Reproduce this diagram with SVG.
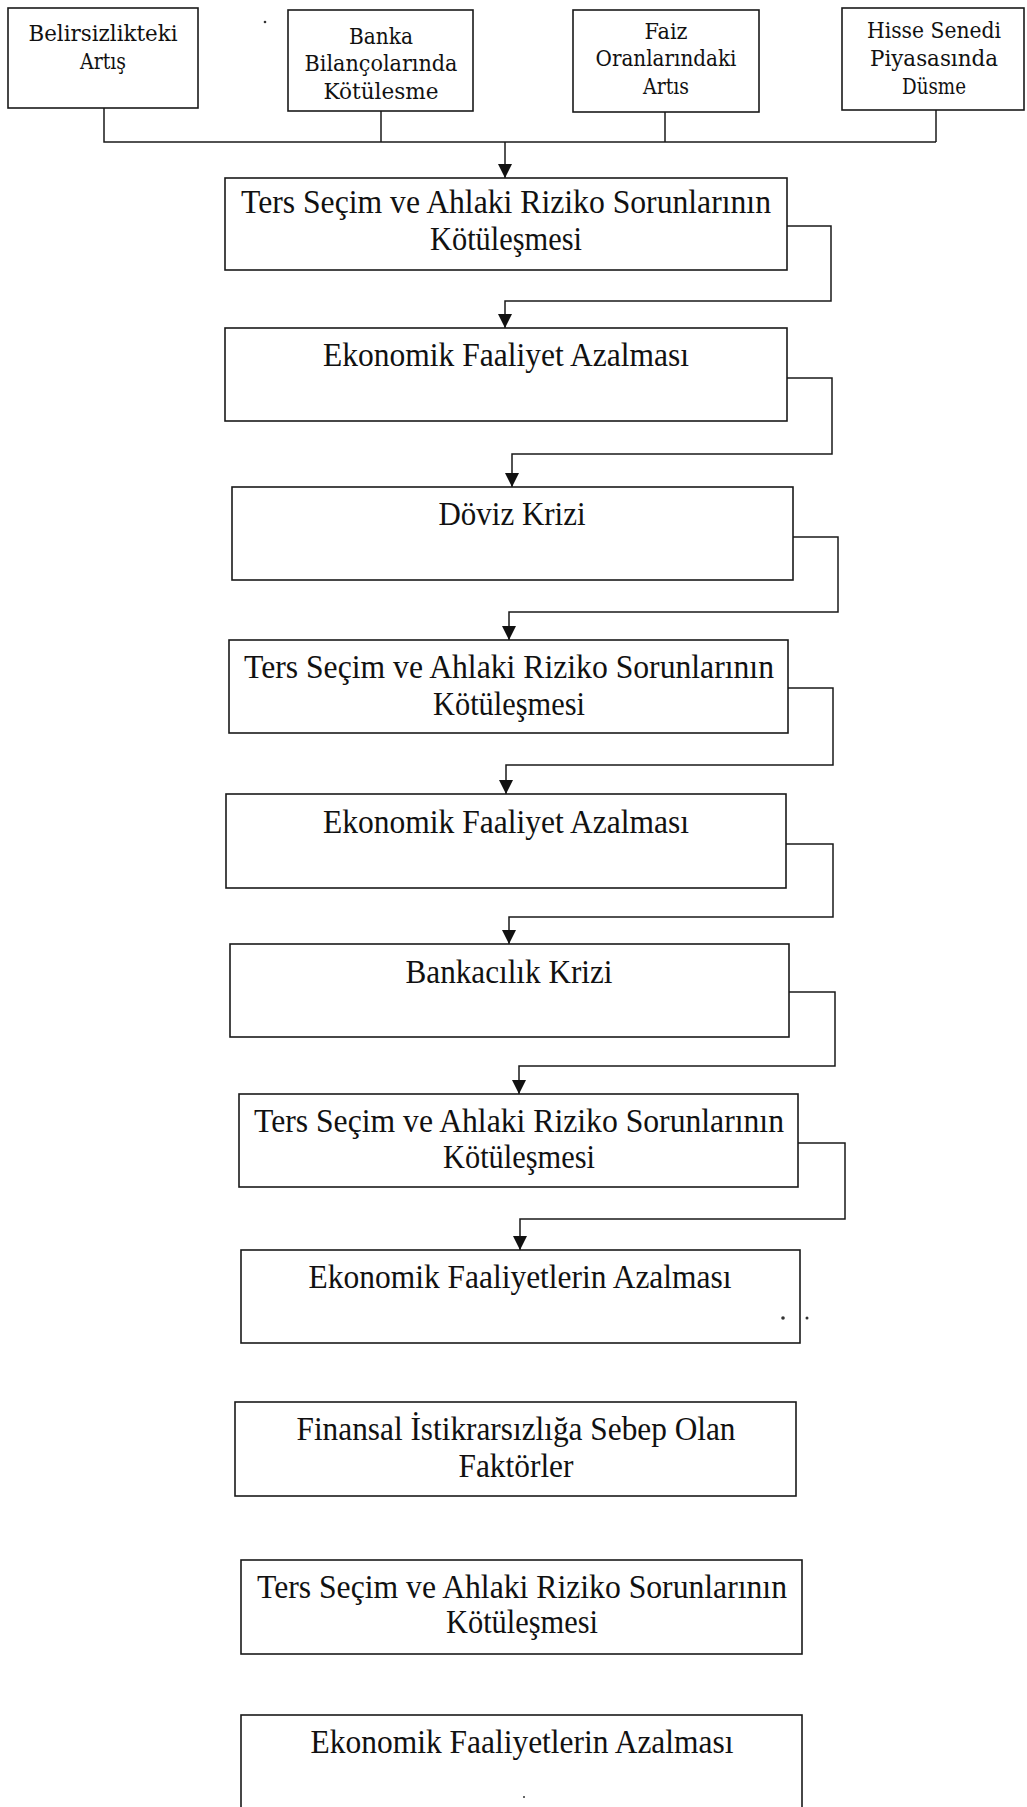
<svg xmlns="http://www.w3.org/2000/svg" width="1027" height="1807" viewBox="0 0 1027 1807">
<style>
.box{fill:#fff;stroke:#1a1a1a;stroke-width:1.6}
.con{fill:none;stroke:#1a1a1a;stroke-width:1.5}
.t{font-family:"Liberation Serif","Times New Roman",serif;font-size:33px;fill:#111;text-anchor:middle}
.s{font-family:"DejaVu Serif","Liberation Serif",serif;font-size:23px;fill:#111;text-anchor:middle}
.dot{fill:#333}
</style>
<defs>
<marker id="arr" markerUnits="userSpaceOnUse" markerWidth="14" markerHeight="14" refX="14" refY="7" orient="auto">
<path d="M0,0 L14,7 L0,14 z" fill="#111"/>
</marker>
</defs>
<rect width="1027" height="1807" fill="#fff"/>

<g id="connectors">
<path class="con" d="M104,108 V142 H936"/>
<path class="con" d="M381,111 V142"/>
<path class="con" d="M665,112 V142"/>
<path class="con" d="M936,110 V142"/>
<path class="con" d="M505,142 V178" marker-end="url(#arr)"/>
<path class="con" d="M787,226 H831 V301 H505 V328" marker-end="url(#arr)"/>
<path class="con" d="M787,378 H832 V454 H512 V487" marker-end="url(#arr)"/>
<path class="con" d="M793,537 H838 V612 H509 V640" marker-end="url(#arr)"/>
<path class="con" d="M788,688 H833 V765 H506 V794" marker-end="url(#arr)"/>
<path class="con" d="M786,844 H833 V917 H509 V944" marker-end="url(#arr)"/>
<path class="con" d="M789,992 H835 V1066 H519 V1094" marker-end="url(#arr)"/>
<path class="con" d="M798,1143 H845 V1219 H520 V1250" marker-end="url(#arr)"/>
</g>

<g id="n-belirsizlik">
<rect class="box" x="8" y="8" width="190" height="100"/>
<text class="s" x="103" y="41" textLength="149" lengthAdjust="spacingAndGlyphs">Belirsizlikteki</text>
<text class="s" x="103" y="69" textLength="46" lengthAdjust="spacingAndGlyphs">Artış</text>
</g>
<g id="n-banka">
<rect class="box" x="288" y="10" width="185" height="101"/>
<text class="s" x="381" y="44" textLength="64" lengthAdjust="spacingAndGlyphs">Banka</text>
<text class="s" x="381" y="71" textLength="153" lengthAdjust="spacingAndGlyphs">Bilançolarında</text>
<text class="s" x="381" y="99" textLength="115" lengthAdjust="spacingAndGlyphs">Kötülesme</text>
</g>
<g id="n-faiz">
<rect class="box" x="573" y="10" width="186" height="102"/>
<text class="s" x="666" y="39" textLength="43" lengthAdjust="spacingAndGlyphs">Faiz</text>
<text class="s" x="666" y="66" textLength="141" lengthAdjust="spacingAndGlyphs">Oranlarındaki</text>
<text class="s" x="666" y="94" textLength="46" lengthAdjust="spacingAndGlyphs">Artıs</text>
</g>
<g id="n-hisse">
<rect class="box" x="842" y="8" width="182" height="102"/>
<text class="s" x="934" y="38" textLength="134" lengthAdjust="spacingAndGlyphs">Hisse Senedi</text>
<text class="s" x="934" y="66" textLength="128" lengthAdjust="spacingAndGlyphs">Piyasasında</text>
<text class="s" x="934" y="94" textLength="64" lengthAdjust="spacingAndGlyphs">Düsme</text>
</g>

<g id="n-ters1">
<rect class="box" x="225" y="178" width="562" height="92"/>
<text class="t" x="506" y="213" textLength="530" lengthAdjust="spacingAndGlyphs">Ters Seçim ve Ahlaki Riziko Sorunlarının</text>
<text class="t" x="506" y="250" textLength="152" lengthAdjust="spacingAndGlyphs">Kötüleşmesi</text>
</g>
<g id="n-eko1">
<rect class="box" x="225" y="328" width="562" height="93"/>
<text class="t" x="506" y="366" textLength="366" lengthAdjust="spacingAndGlyphs">Ekonomik Faaliyet Azalması</text>
</g>
<g id="n-doviz">
<rect class="box" x="232" y="487" width="561" height="93"/>
<text class="t" x="512" y="525" textLength="147" lengthAdjust="spacingAndGlyphs">Döviz Krizi</text>
</g>
<g id="n-ters2">
<rect class="box" x="229" y="640" width="559" height="93"/>
<text class="t" x="509" y="678" textLength="530" lengthAdjust="spacingAndGlyphs">Ters Seçim ve Ahlaki Riziko Sorunlarının</text>
<text class="t" x="509" y="715" textLength="152" lengthAdjust="spacingAndGlyphs">Kötüleşmesi</text>
</g>
<g id="n-eko2">
<rect class="box" x="226" y="794" width="560" height="94"/>
<text class="t" x="506" y="833" textLength="366" lengthAdjust="spacingAndGlyphs">Ekonomik Faaliyet Azalması</text>
</g>
<g id="n-banka-kriz">
<rect class="box" x="230" y="944" width="559" height="93"/>
<text class="t" x="509" y="983" textLength="207" lengthAdjust="spacingAndGlyphs">Bankacılık Krizi</text>
</g>
<g id="n-ters3">
<rect class="box" x="239" y="1094" width="559" height="93"/>
<text class="t" x="519" y="1132" textLength="530" lengthAdjust="spacingAndGlyphs">Ters Seçim ve Ahlaki Riziko Sorunlarının</text>
<text class="t" x="519" y="1168" textLength="152" lengthAdjust="spacingAndGlyphs">Kötüleşmesi</text>
</g>
<g id="n-eko3">
<rect class="box" x="241" y="1250" width="559" height="93"/>
<text class="t" x="520" y="1288" textLength="423" lengthAdjust="spacingAndGlyphs">Ekonomik Faaliyetlerin Azalması</text>
</g>
<g id="n-finansal">
<rect class="box" x="235" y="1402" width="561" height="94"/>
<text class="t" x="516" y="1440" textLength="439" lengthAdjust="spacingAndGlyphs">Finansal İstikrarsızlığa Sebep Olan</text>
<text class="t" x="516" y="1477" textLength="115" lengthAdjust="spacingAndGlyphs">Faktörler</text>
</g>
<g id="n-ters4">
<rect class="box" x="241" y="1560" width="561" height="94"/>
<text class="t" x="522" y="1598" textLength="530" lengthAdjust="spacingAndGlyphs">Ters Seçim ve Ahlaki Riziko Sorunlarının</text>
<text class="t" x="522" y="1633" textLength="152" lengthAdjust="spacingAndGlyphs">Kötüleşmesi</text>
</g>
<g id="n-eko4">
<rect class="box" x="241" y="1715" width="561" height="110"/>
<text class="t" x="522" y="1753" textLength="423" lengthAdjust="spacingAndGlyphs">Ekonomik Faaliyetlerin Azalması</text>
</g>

<g id="specks">
<circle class="dot" cx="265" cy="22" r="1.3"/>
<circle class="dot" cx="783" cy="1318" r="1.8"/>
<circle class="dot" cx="807" cy="1318" r="1.5"/>
<circle class="dot" cx="524" cy="1797" r="1"/>
</g>
</svg>
